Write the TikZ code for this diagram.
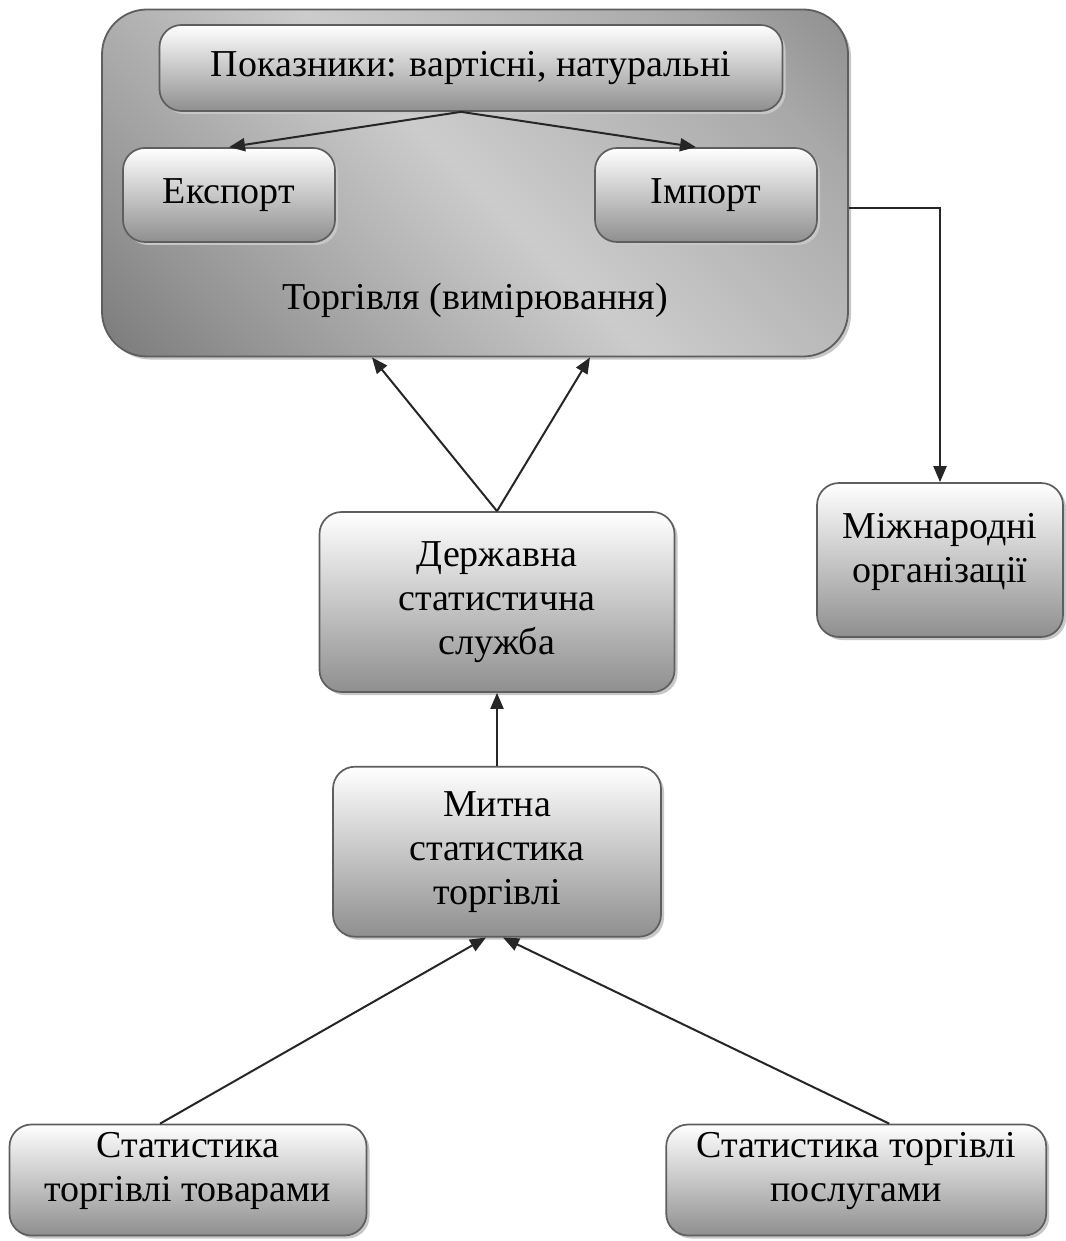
\documentclass[tikz,border=0pt]{standalone}
\usepackage{fontspec}
\setmainfont{Liberation Serif}
\usetikzlibrary{arrows.meta, positioning, shadows}
\definecolor{edgegray}{HTML}{5E5E5E}
\definecolor{linedark}{HTML}{262626}
\pgfdeclarehorizontalshading{tradeshade}{100bp}{color(0bp)=(black!66); color(25bp)=(black!42); color(50bp)=(black!20); color(75bp)=(black!34); color(100bp)=(black!58)}

\begin{document}
\begin{tikzpicture}[
  x=1pt, y=-1pt,
  box/.style={draw=edgegray, line width=1.7pt, rounded corners=22pt, top color=white, bottom color=black!44, align=center, inner sep=0pt, text=black, font=\fontsize{38}{44}\selectfont, drop shadow={shadow xshift=3pt, shadow yshift=-3pt, fill=black!22, opacity=1}},
  frame/.style={draw=edgegray, line width=1.8pt, rounded corners=45pt, shading=tradeshade, shading angle=45, drop shadow={shadow xshift=3pt, shadow yshift=-3pt, fill=black!22, opacity=1}},
  framelabel/.style={inner sep=0pt, font=\fontsize{38}{44}\selectfont},
  arrow/.style={-{Triangle[length=16pt, width=13pt]}, draw=linedark, line width=2pt}
]
  \useasboundingbox[fill=white] (0,0) rectangle (1065,1241);

  % trade block with its inner boxes
  \node[frame, minimum width=746pt, minimum height=347pt] (trade) at (475,183) {};
  \node[framelabel, above=40pt of trade.south] (tradelbl) {Торгівля (вимірювання)};
  \node[box, minimum width=623pt, minimum height=86pt] (ind) at (471,68) {Показники: вартісні, натуральні};
  \node[box, minimum width=212pt, minimum height=94pt] (exp) at (229,195) {Експорт};
  \node[box, minimum width=222pt, minimum height=94pt] (imp) at (706,195) {Імпорт};

  % sources
  \node[box, minimum width=355pt, minimum height=180pt] (derzh) at (497,602) {Державна\\статистична\\служба};
  \node[box, minimum width=328pt, minimum height=170pt, below=73pt of derzh] (myt) {Митна\\статистика\\торгівлі};
  \node[box, minimum width=246pt, minimum height=154pt] (intl) at (940,560) {Міжнародні\\організації\\[-20pt]\mbox{}};
  \node[box, minimum width=357pt, minimum height=111pt] (goods) at (188,1180) {Статистика\\торгівлі товарами\\[-18pt]\mbox{}};
  \node[box, minimum width=380pt, minimum height=111pt, right=298pt of goods] (serv) {Статистика торгівлі\\послугами\\[-18pt]\mbox{}};

  \draw[arrow] ([xshift=-10pt]ind.south) -- (exp.north);
  \draw[arrow] ([xshift=-10pt]ind.south) -- ([xshift=-10pt]imp.north);
  \draw[arrow] (derzh.north) -- ([xshift=-103pt]trade.south);
  \draw[arrow] (derzh.north) -- ([xshift=115pt]trade.south);
  \draw[arrow] (myt.north) -- (derzh.south);
  \draw[arrow] ([xshift=-28pt]goods.north) -- ([xshift=-11pt]myt.south);
  \draw[arrow] ([xshift=33pt]serv.north) -- ([xshift=6pt]myt.south);
  \draw[arrow] ([yshift=-25pt]trade.east) -| (intl.north);
\end{tikzpicture}
\end{document}
